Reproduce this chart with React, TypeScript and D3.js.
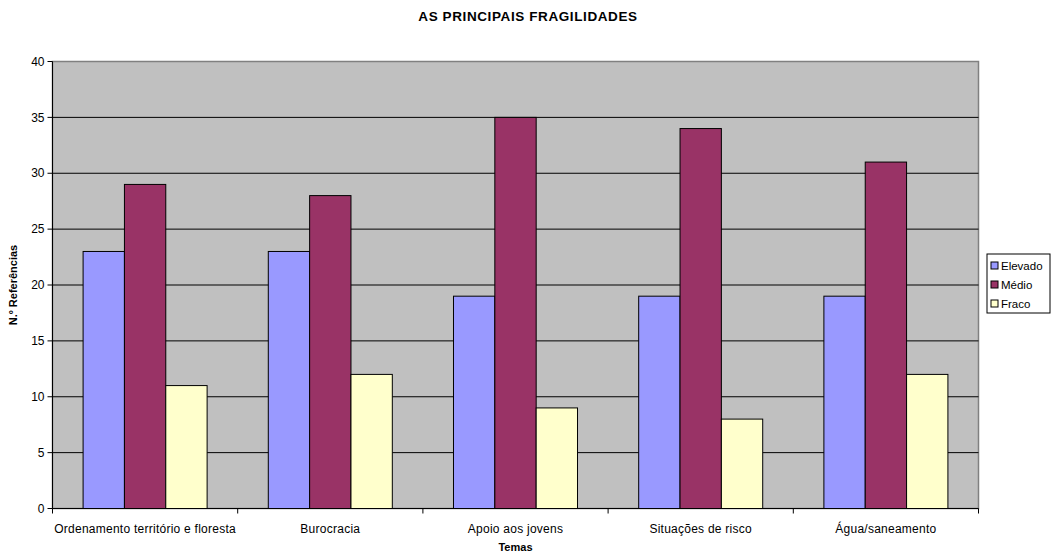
import React from 'react';
import * as d3 from 'd3';

// chart data
const temas = [
  'Ordenamento território e floresta',
  'Burocracia',
  'Apoio aos jovens',
  'Situações de risco',
  'Água/saneamento',
];
const seriesNames = ['Elevado', 'Médio', 'Fraco'];
const elevado = [23, 23, 19, 19, 19];
const medio = [29, 28, 35, 34, 31];
const fraco = [11, 12, 9, 8, 12];
const yTicks = [0, 5, 10, 15, 20, 25, 30, 35, 40];

const colors = ['#9999FF', '#993366', '#FFFFCC'];
const font = '"Liberation Sans", Arial, sans-serif';

const App = () => {
  const width = 1053;
  const height = 554;
  const margin = { top: 61.5, right: 74.5, bottom: 45.5, left: 52.5 };
  const innerW = width - margin.left - margin.right;
  const innerH = height - margin.top - margin.bottom;

  const values = [elevado, medio, fraco];

  const x0 = d3.scaleBand<string>().domain(temas).range([0, innerW]).paddingInner(0).paddingOuter(0);
  const x1 = d3.scaleBand<string>()
    .domain(seriesNames)
    .range([0, x0.bandwidth()])
    .paddingInner(0)
    .paddingOuter(0.74);
  const y = d3.scaleLinear().domain([0, 40]).range([innerH, 0]);

  return (
    <svg width={width} height={height} style={{ position: 'absolute', left: 0, top: 0, background: '#fff' }}>
      <text x={528} y={21} textAnchor="middle" fontFamily={font} fontSize={13.5} letterSpacing={0.6} fontWeight="bold">
        AS PRINCIPAIS FRAGILIDADES
      </text>
      <g transform={`translate(${margin.left},${margin.top})`}>
        <rect x={0} y={0} width={innerW} height={innerH} fill="#C0C0C0" stroke="#808080" strokeWidth={1.5} />
        {yTicks.slice(1, -1).map(t => (
          <line key={t} x1={0} x2={innerW} y1={y(t)} y2={y(t)} stroke="#000" strokeWidth={1} />
        ))}
        {temas.map((tema, i) => (
          <g key={tema} transform={`translate(${x0(tema)},0)`}>
            {seriesNames.map((s, j) => (
              <rect
                key={s}
                x={x1(s)}
                y={y(values[j][i])}
                width={x1.bandwidth()}
                height={innerH - y(values[j][i])}
                fill={colors[j]}
                stroke="#000"
                strokeWidth={1}
              />
            ))}
          </g>
        ))}
        {/* axes */}
        <line x1={0} x2={0} y1={0} y2={innerH} stroke="#000" strokeWidth={1} />
        <line x1={0} x2={innerW} y1={innerH} y2={innerH} stroke="#000" strokeWidth={1} />
        {yTicks.map(t => (
          <g key={t} transform={`translate(0,${y(t)})`}>
            <line x1={-5} x2={0} stroke="#000" />
            <text x={-8} dy="0.35em" textAnchor="end" fontFamily={font} fontSize={12}>{t}</text>
          </g>
        ))}
        {temas.map(tema => (
          <line key={tema} x1={x0(tema)!} x2={x0(tema)!} y1={innerH} y2={innerH + 5} stroke="#000" />
        ))}
        <line x1={innerW} x2={innerW} y1={innerH} y2={innerH + 5} stroke="#000" />
        {temas.map(tema => (
          <text
            key={tema}
            x={x0(tema)! + x0.bandwidth() / 2}
            y={innerH + 24}
            textAnchor="middle"
            fontFamily={font}
            fontSize={12}
            letterSpacing={0.25}
          >
            {tema}
          </text>
        ))}
        <text x={innerW / 2} y={innerH + 42} textAnchor="middle" fontFamily={font} fontSize={11} fontWeight="bold">
          Temas
        </text>
        <text
          transform={`translate(${-36},${innerH / 2}) rotate(-90)`}
          textAnchor="middle"
          fontFamily={font}
          fontSize={11}
          fontWeight="bold"
        >
          N.º Referências
        </text>
      </g>
      {/* legend */}
      <g transform="translate(987,254)">
        <rect x={0} y={0} width={63} height={59} fill="#fff" stroke="#000" strokeWidth={1} />
        {seriesNames.map((s, j) => (
          <g key={s} transform={`translate(4,${12 + j * 19})`}>
            <rect x={0} y={-4} width={7} height={7} fill={colors[j]} stroke="#000" strokeWidth={1} />
            <text x={10} dy="0.35em" fontFamily={font} fontSize={11.5}>{s}</text>
          </g>
        ))}
      </g>
    </svg>
  );
};

export default App;
